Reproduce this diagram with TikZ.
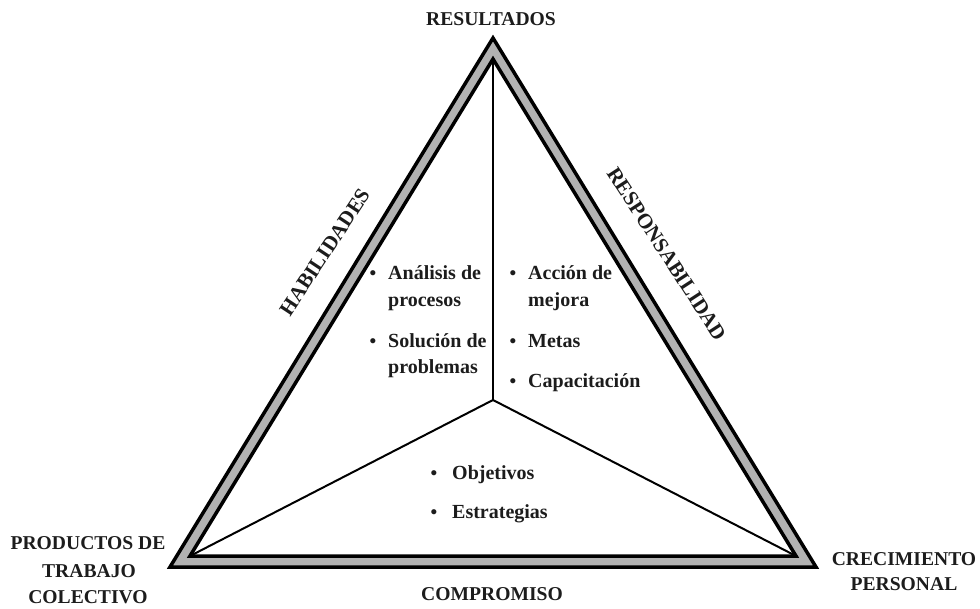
\documentclass[tikz,border=0pt]{standalone}
\usepackage{fontspec}
\setmainfont{Liberation Serif}
\definecolor{bandgray}{RGB}{178,178,178}
\definecolor{txt}{RGB}{28,28,28}
\begin{document}
\begin{tikzpicture}[x=1pt,y=-1pt,
  lbl/.style={font=\fontsize{19.6}{27}\selectfont\bfseries, text=txt, inner sep=0pt, anchor=base},
  diag/.style={font=\fontsize{21}{24}\selectfont\bfseries, text=txt, inner sep=0pt},
  itm/.style={font=\fontsize{20}{26}\selectfont\bfseries, text=txt, inner sep=0pt, anchor=base west},
  bul/.style={font=\fontsize{19}{26}\selectfont\bfseries, text=txt, inner sep=0pt, anchor=base},
  edgeline/.style={line width=3.5pt, line join=miter, draw=black},
  spoke/.style={line width=2pt, draw=black}]
\useasboundingbox (0,0) rectangle (980,609);
% triangle vertices
\coordinate (oa) at (493,38);
\coordinate (ol) at (170,567);
\coordinate (or) at (816,567);
\coordinate (ia) at (493,59);
\coordinate (il) at (190,556);
\coordinate (ir) at (796,556);
\coordinate (c) at (493,400);
% band
\fill[bandgray, even odd rule] (oa) -- (ol) -- (or) -- cycle (ia) -- (il) -- (ir) -- cycle;
\draw[edgeline] (oa) -- (ol) -- (or) -- cycle;
\draw[edgeline] (ia) -- (il) -- (ir) -- cycle;
% spokes
\draw[spoke] (c) -- (ia);
\draw[spoke] (c) -- (il);
\draw[spoke] (c) -- (ir);
% corner labels
\node[lbl] (res) at (491,26) {RESULTADOS};
\node[lbl] (prod1) at (88,549) {PRODUCTOS DE};
\node[lbl] (prod2) at (89,577) {TRABAJO};
\node[lbl] (prod3) at (88,603) {COLECTIVO};
\node[lbl] (crec1) at (904,565) {CRECIMIENTO};
\node[lbl] (crec2) at (904,590) {PERSONAL};
\node[lbl] (comp) at (492,600) {COMPROMISO};
% side labels
\node[diag, rotate=56.5] (hab) at (325,252) {HABILIDADES};
\node[diag, rotate=-57] (resp) at (667,254) {RESPONSABILIDAD};
% left items
\node[bul] (bl1) at (373,280) {•};
\node[itm] (l1a) at (388,280) {Análisis de};
\node[itm] (l1b) at (388,307) {procesos};
\node[bul] (bl2) at (373,348) {•};
\node[itm] (l2a) at (388,348) {Solución de};
\node[itm] (l2b) at (388,374) {problemas};
% right items
\node[bul] (br1) at (513,280) {•};
\node[itm] (r1a) at (528,280) {Acción de};
\node[itm] (r1b) at (528,307) {mejora};
\node[bul] (br2) at (513,348) {•};
\node[itm] (r2a) at (528,348) {Metas};
\node[bul] (br3) at (513,388) {•};
\node[itm] (r3a) at (528,388) {Capacitación};
% bottom items
\node[bul] (bb1) at (434,479) {•};
\node[itm] (b1a) at (452,479) {Objetivos};
\node[bul] (bb2) at (434,518) {•};
\node[itm] (b2a) at (452,518) {Estrategias};
\end{tikzpicture}
\end{document}
